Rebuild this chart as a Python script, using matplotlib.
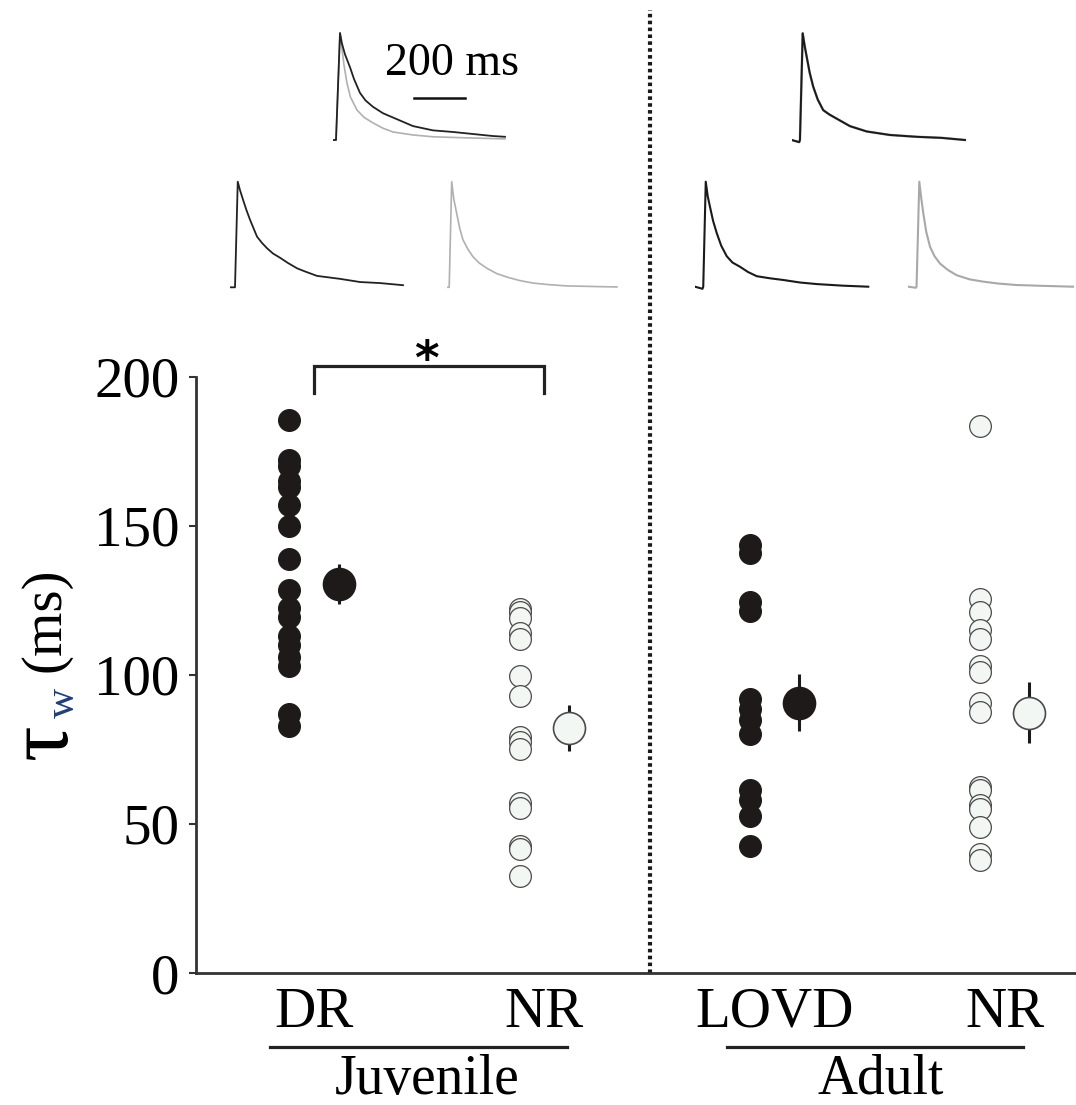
import matplotlib
matplotlib.use("Agg")
import matplotlib.pyplot as plt
import matplotlib.transforms as mtransforms

plt.rcParams['font.family'] = ['Liberation Serif', 'DejaVu Serif']

# weighted decay time constants (ms), one value per cell
groups = ["DR", "NR", "LOVD", "NR"]
ages = ["Juvenile", "Adult"]
dr_juv = [185.5, 172, 170, 165, 163, 157, 150, 139, 128.5, 122.5, 119.5, 113, 110, 106, 103, 87, 83]
nr_juv = [122, 121, 119, 114, 112, 99.5, 93, 79, 77.5, 75, 57, 55.5, 42.5, 41.5, 32.5]
lovd_adult = [143.5, 141, 124.5, 121.5, 92, 88.5, 85, 80, 61.5, 58, 52.5, 42.5]
nr_adult = [183.5, 125.5, 121, 115, 112, 103, 101, 90.5, 87.5, 62.5, 61.5, 56.5, 55, 49, 40, 38]
cells = [dr_juv, nr_juv, lovd_adult, nr_adult]
means = [130.5, 82.2, 90.7, 87.3]
sems = [6.7, 7.8, 9.6, 10.2]
filled = [True, False, True, False]

# example traces: time (ms) and normalised amplitude
t_dr_pair = [0, 12, 28, 36, 48, 68, 84, 108, 130, 160, 200, 240, 320, 400, 480, 560, 640, 688]
a_dr_pair = [0, 0, 1.0, 0.9, 0.8, 0.68, 0.57, 0.44, 0.37, 0.31, 0.25, 0.21, 0.13, 0.09, 0.075, 0.056, 0.037, 0.03]
t_nr_pair = [0, 12, 28, 36, 44, 56, 70, 96, 125, 160, 200, 240, 320, 400, 536, 688]
a_nr_pair = [0, 0, 1.0, 0.85, 0.7, 0.53, 0.4, 0.28, 0.21, 0.16, 0.11, 0.075, 0.047, 0.03, 0.02, 0.01]
t_dr = [0, 20, 31, 40, 52, 66, 80, 94, 108, 128, 148, 172, 200, 232, 268, 300, 348, 440, 520, 600, 692]
a_dr = [0, 0, 1.0, 0.92, 0.83, 0.73, 0.64, 0.56, 0.48, 0.42, 0.37, 0.32, 0.28, 0.23, 0.18, 0.15, 0.108, 0.08, 0.05, 0.04, 0.02]
t_nrj = [0, 10, 20, 28, 40, 52, 65, 85, 105, 130, 161, 200, 241, 290, 345, 410, 481, 580, 681]
a_nrj = [0, 0, 1.0, 0.84, 0.70, 0.56, 0.45, 0.36, 0.29, 0.23, 0.18, 0.13, 0.097, 0.065, 0.04, 0.025, 0.013, 0.008, 0.003]
t_ad_pair = [0, 30, 33, 44, 52, 60, 72, 86, 104, 126, 150, 180, 233, 300, 393, 500, 600, 693]
a_ad_pair = [0, -0.02, 0, 1.0, 0.88, 0.78, 0.63, 0.50, 0.38, 0.28, 0.24, 0.20, 0.13, 0.08, 0.047, 0.03, 0.02, 0.0]
t_lovd = [0, 30, 33, 43, 51, 60, 72, 87, 105, 127, 150, 180, 212, 247, 300, 353, 420, 487, 590, 693]
a_lovd = [0, -0.02, 0, 1.0, 0.86, 0.76, 0.63, 0.51, 0.39, 0.29, 0.23, 0.19, 0.14, 0.10, 0.08, 0.064, 0.04, 0.025, 0.01, 0.0]
t_nra = [0, 30, 33, 44, 52, 60, 72, 87, 105, 127, 158, 193, 245, 300, 360, 433, 540, 659]
a_nra = [0, -0.01, 0, 1.0, 0.84, 0.70, 0.52, 0.38, 0.29, 0.22, 0.16, 0.11, 0.07, 0.048, 0.03, 0.016, 0.008, 0.0]

W, H = 1076, 1105
fig = plt.figure(figsize=(W / 100, H / 100), dpi=100)


def px_axes(left, top, width, height):
    # axes placed in pixel units measured from the top-left corner
    return fig.add_axes([left / W, 1 - (top + height) / H, width / W, height / H])


# main scatter panel
ax = px_axes(196, 376.7, 880, 596.3)
x_pos = [0, 1, 2, 3]
off = 0.107
for x, vals, m, s, f in zip(x_pos, cells, means, sems, filled):
    face = '#1e1a1a' if f else '#f3f7f3'
    edge = '#1e1a1a' if f else '#4a4a4a'
    ax.scatter([x - off] * len(vals), vals, s=245, facecolor=face, edgecolor=edge,
               linewidth=0.9, zorder=3)
    ax.errorbar(x + off, m, yerr=s, fmt='none', ecolor='#1a1a1a', elinewidth=2.2,
                capsize=0, zorder=2)
    ax.scatter([x + off], [m], s=530, facecolor=face, edgecolor=edge,
               linewidth=1.2, zorder=4)

ax.set_xlim(-0.512, 3.309)
ax.set_ylim(0, 200)
ax.set_yticks([0, 50, 100, 150, 200])
ax.tick_params(axis='y', labelsize=41, length=5, width=1.5, pad=7, color='#333333')
ax.set_xticks(x_pos)
ax.set_xticklabels(groups)
ax.tick_params(axis='x', labelsize=41, length=0, pad=10)
for side in ['top', 'right']:
    ax.spines[side].set_visible(False)
for side in ['left', 'bottom']:
    ax.spines[side].set_linewidth(2)
    ax.spines[side].set_color('#333333')

# significance bracket
ax.plot([0, 0, 1, 1], [194.6, 203.7, 203.7, 194.6], color='#222222', lw=2.3,
        clip_on=False, solid_joinstyle='miter')
ax.text(0.49, 201.0, '*', fontsize=34, ha='center', va='baseline',
        family='DejaVu Sans', fontweight='bold')

# dotted separator between age groups
ax.axvline(1.459, ymin=0, ymax=1.615, color='#1a1a1a', lw=3.0,
           linestyle=(0, (0.85, 0.8)), clip_on=False)

# age-group underlines and labels
trans = mtransforms.blended_transform_factory(ax.transData, ax.transAxes)
ax.plot([-0.191, 1.099], [-0.124, -0.124], color='#222222', lw=2.3,
        transform=trans, clip_on=False)
ax.plot([1.793, 3.079], [-0.124, -0.124], color='#222222', lw=2.3,
        transform=trans, clip_on=False)
ax.text(0.49, -0.2025, ages[0], fontsize=40, ha='center', va='baseline', transform=trans)
ax.text(2.46, -0.2025, ages[1], fontsize=40, ha='center', va='baseline', transform=trans)

# y label: tau with blue subscript w
fig.text(45 / W, 1 - 742 / H, 'τ', fontsize=64, rotation=90,
         ha='center', va='center')
fig.text(64 / W, 1 - 703 / H, 'w', fontsize=30, rotation=90, color='#1f3f78',
         ha='center', va='center')
fig.text(45 / W, 1 - 620 / H, '(ms)', fontsize=41, rotation=90,
         ha='center', va='center')


def trace_axes(left, baseline, amp):
    a = px_axes(left, baseline - 1.1 * amp, 176, 1.2 * amp)
    a.set_xlim(0, 704)
    a.set_ylim(-0.1, 1.1)
    a.axis('off')
    return a


# juvenile overlay with scale bar
tr = trace_axes(333, 140, 107)
tr.plot(t_nr_pair, a_nr_pair, color='#b0b0b0', lw=1.2)
tr.plot(t_dr_pair, a_dr_pair, color='#222222', lw=1.3)
tr.plot([324, 528], [0.39, 0.39], color='#111111', lw=1.8, clip_on=False)
tr.text(476, 0.61, '200 ms', fontsize=33, ha='center', va='baseline')

tr = trace_axes(230, 287.3, 105.6)
tr.plot(t_dr, a_dr, color='#222222', lw=1.3)
tr = trace_axes(446.7, 287.3, 105.6)
tr.plot(t_nrj, a_nrj, color='#b0b0b0', lw=1.2)

# adult overlay
tr = trace_axes(791.7, 140, 106.7)
tr.plot(t_ad_pair, a_ad_pair, color='#a8a8a8', lw=1.8)
tr.plot(t_ad_pair, a_ad_pair, color='#1a1a1a', lw=1.4)
tr = trace_axes(695, 286.7, 105)
tr.plot(t_lovd, a_lovd, color='#1a1a1a', lw=1.5)
tr = trace_axes(908.3, 286.7, 105)
tr.plot(t_nra, a_nra, color='#a8a8a8', lw=1.5)

fig.savefig('out.png', dpi=100)
